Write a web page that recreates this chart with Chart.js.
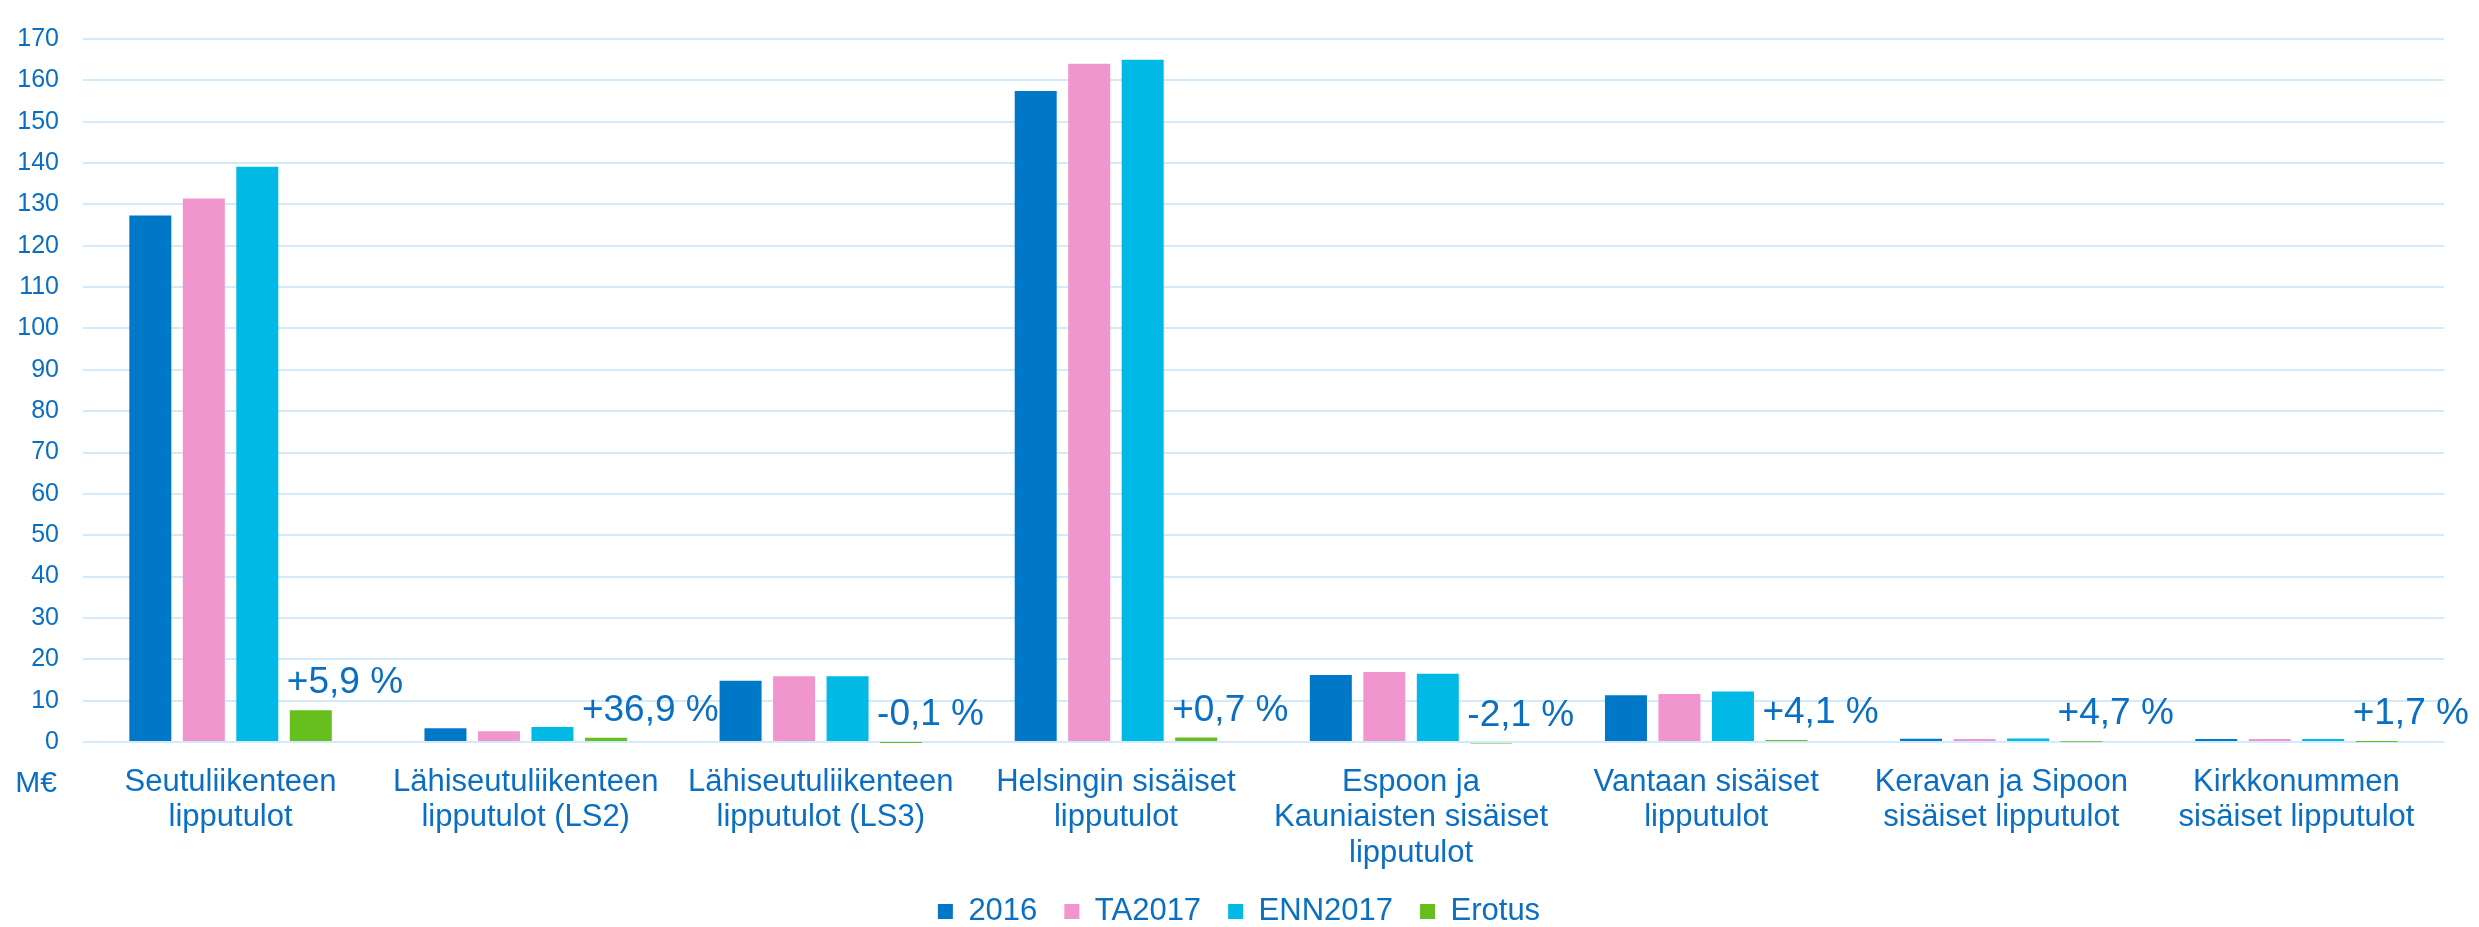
<!DOCTYPE html>
<html>
<head>
<meta charset="utf-8">
<script src="https://cdn.jsdelivr.net/npm/chart.js@4/dist/chart.umd.min.js"></script>
<style>
  body { margin: 0; background: #fff; }
  #wrap { width: 2479px; height: 927px; position: relative; }
</style>
</head>
<body>
<div id="wrap"><canvas id="ticketChart"></canvas></div>
<script>
const categories = [
  ["Seutuliikenteen", "lipputulot"],
  ["Lähiseutuliikenteen", "lipputulot (LS2)"],
  ["Lähiseutuliikenteen", "lipputulot (LS3)"],
  ["Helsingin sisäiset", "lipputulot"],
  ["Espoon ja", "Kauniaisten sisäiset", "lipputulot"],
  ["Vantaan sisäiset", "lipputulot"],
  ["Keravan ja Sipoon", "sisäiset lipputulot"],
  ["Kirkkonummen", "sisäiset lipputulot"]
];
const values2016 = [127.3, 3.3, 14.8, 157.4, 16.2, 11.3, 0.8, 0.7];
const valuesTA2017 = [131.4, 2.6, 15.9, 164.0, 16.9, 11.6, 0.75, 0.7];
const valuesENN2017 = [139.1, 3.6, 15.9, 165.0, 16.5, 12.2, 0.85, 0.7];
const valuesErotus = [7.7, 1.0, -0.02, 1.1, -0.35, 0.5, 0.04, 0.01];
const erotusLabels = ["+5,9 %", "+36,9 %", "-0,1 %", "+0,7 %", "-2,1 %", "+4,1 %", "+4,7 %", "+1,7 %"];
const yTicks = [0, 10, 20, 30, 40, 50, 60, 70, 80, 90, 100, 110, 120, 130, 140, 150, 160, 170];

const textColor = "#0a6fc2";
const fontFamily = "'Liberation Sans', Arial, sans-serif";

// percentage labels above the Erotus bars, plus the M€ unit under the axis
const labelPlugin = {
  id: "erotusLabels",
  afterLayout(chart) {
    // centre the legend on the whole canvas, not on the padded box
    const shift = 17;
    chart.legend.left += shift;
    chart.legend.right += shift;
  },
  afterDatasetsDraw(chart) {
    const ctx = chart.ctx;
    const meta = chart.getDatasetMeta(3);
    ctx.save();
    ctx.fillStyle = textColor;
    ctx.font = "37px " + fontFamily;
    ctx.textAlign = "left";
    ctx.textBaseline = "middle";
    meta.data.forEach((bar, i) => {
      const top = Math.min(bar.y, bar.base);
      ctx.fillText(erotusLabels[i], bar.x - bar.width / 2 - 3, top - 27);
    });
    const y = chart.scales.y;
    ctx.font = "30px " + fontFamily;
    ctx.textAlign = "right";
    ctx.fillText("M€", y.right - 26, chart.chartArea.bottom + 42);
    ctx.restore();
  }
};

const barOpts = { categoryPercentage: 0.725, barPercentage: 0.785 };

new Chart(document.getElementById("ticketChart"), {
  type: "bar",
  data: {
    labels: categories,
    datasets: [
      { label: "2016", data: values2016, backgroundColor: "#0078c8", ...barOpts },
      { label: "TA2017", data: valuesTA2017, backgroundColor: "#f095cd", ...barOpts },
      { label: "ENN2017", data: valuesENN2017, backgroundColor: "#00b9e4", ...barOpts },
      { label: "Erotus", data: valuesErotus, backgroundColor: "#67bf1f", clip: false, ...barOpts }
    ]
  },
  options: {
    responsive: true,
    maintainAspectRatio: false,
    animation: false,
    layout: { padding: { top: 0, right: 35, left: 0, bottom: 0 } },
    plugins: {
      tooltip: { enabled: false },
      legend: {
        position: "bottom",
        maxHeight: 58,
        labels: {
          color: textColor,
          font: { family: fontFamily, size: 31 },
          boxWidth: 15,
          boxHeight: 15,
          padding: 27
        }
      }
    },
    scales: {
      x: {
        afterFit(scale) { scale.height = 127; },
        grid: { display: false },
        border: { display: false },
        ticks: {
          color: textColor,
          font: { family: fontFamily, size: 31, lineHeight: 1.16 },
          padding: 14,
          maxRotation: 0,
          autoSkip: false
        }
      },
      y: {
        min: 0,
        max: 170,
        afterFit(scale) { scale.width = 83; },
        afterBuildTicks(scale) { scale.ticks = yTicks.map(v => ({ value: v })); },
        grid: { color: "#d3eafb", lineWidth: 2, drawTicks: false },
        border: { display: false },
        ticks: {
          color: textColor,
          font: { family: fontFamily, size: 25 },
          padding: 24
        }
      }
    }
  },
  plugins: [labelPlugin]
});
</script>
</body>
</html>
